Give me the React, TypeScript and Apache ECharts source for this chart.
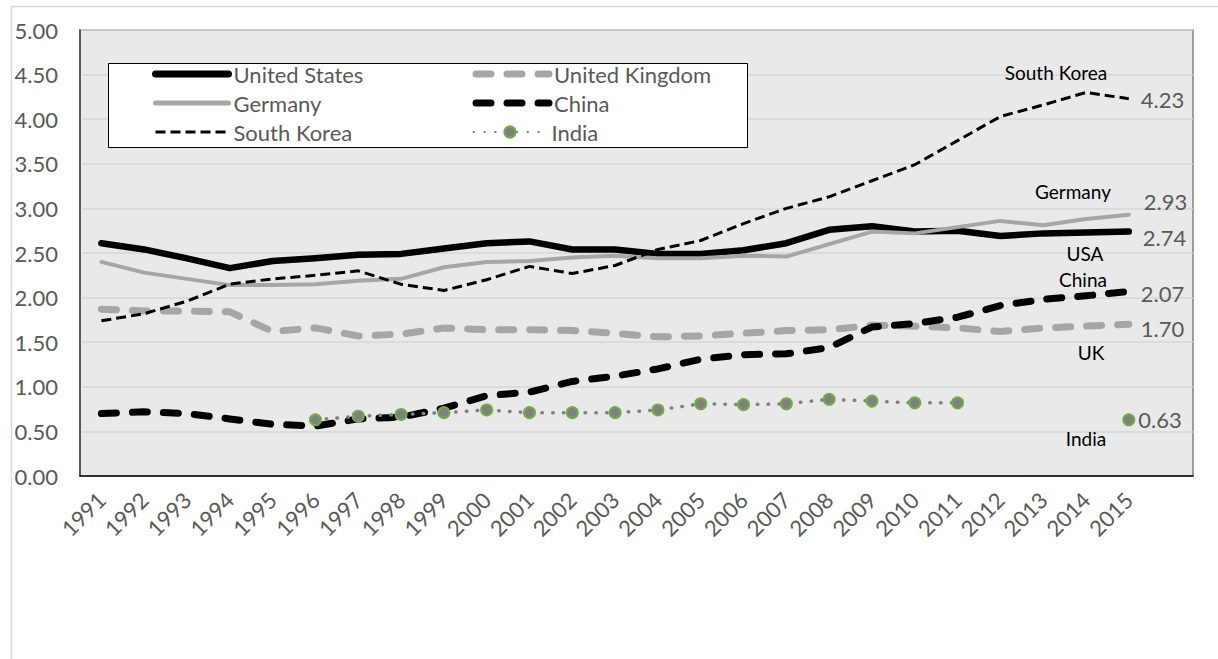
import React, { useEffect, useRef } from 'react';
import * as echarts from 'echarts';

const FONT = 'Lato, "Open Sans", sans-serif';

const years = ['1991', '1992', '1993', '1994', '1995', '1996', '1997', '1998', '1999', '2000', '2001', '2002', '2003', '2004', '2005', '2006', '2007', '2008', '2009', '2010', '2011', '2012', '2013', '2014', '2015'];
const categories = [...years, ''];

const unitedStates = [2.61, 2.54, 2.44, 2.33, 2.41, 2.44, 2.48, 2.49, 2.55, 2.61, 2.63, 2.54, 2.54, 2.49, 2.49, 2.53, 2.61, 2.76, 2.80, 2.74, 2.75, 2.69, 2.72, 2.73, 2.74];
const unitedKingdom = [1.87, 1.85, 1.85, 1.84, 1.62, 1.66, 1.57, 1.59, 1.66, 1.64, 1.64, 1.63, 1.60, 1.56, 1.57, 1.60, 1.63, 1.64, 1.69, 1.68, 1.66, 1.62, 1.66, 1.68, 1.70];
const germany = [2.40, 2.28, 2.21, 2.14, 2.14, 2.15, 2.19, 2.21, 2.34, 2.40, 2.41, 2.45, 2.47, 2.44, 2.44, 2.47, 2.46, 2.60, 2.74, 2.72, 2.79, 2.86, 2.81, 2.88, 2.93];
const china = [0.70, 0.72, 0.70, 0.64, 0.58, 0.56, 0.64, 0.66, 0.76, 0.90, 0.94, 1.06, 1.12, 1.20, 1.31, 1.36, 1.37, 1.44, 1.67, 1.71, 1.78, 1.91, 1.98, 2.02, 2.07];
const southKorea = [1.74, 1.82, 1.96, 2.15, 2.21, 2.25, 2.30, 2.15, 2.08, 2.20, 2.35, 2.27, 2.36, 2.54, 2.64, 2.83, 3.00, 3.13, 3.31, 3.49, 3.76, 4.03, 4.16, 4.30, 4.23];
const india = [null, null, null, null, null, 0.63, 0.67, 0.69, 0.71, 0.74, 0.71, 0.71, 0.71, 0.74, 0.81, 0.80, 0.81, 0.86, 0.84, 0.82, 0.82, null, null, null, 0.63];

const yTicks = { min: 0, max: 5, interval: 0.5 };

const annotations = [
  { text: 'South Korea', x: 1056, y: 72 },
  { text: 'Germany', x: 1073, y: 191 },
  { text: 'USA', x: 1085, y: 253 },
  { text: 'China', x: 1083, y: 279 },
  { text: 'UK', x: 1091, y: 352 },
  { text: 'India', x: 1086, y: 438 },
];

const valueLabelStyle = { fontSize: 22, color: '#595959', fontFamily: FONT };

function endLabel(offsetY: number, distance: number) {
  return {
    show: true,
    distance,
    offset: [0, offsetY],
    formatter: (p: any) => Number(Array.isArray(p.value) ? p.value[1] : p.value).toFixed(2),
    ...valueLabelStyle,
  };
}

function withLastLabel(arr: (number | null)[], offsetY: number, distance: number) {
  return arr.map((v, i) =>
    i === arr.length - 1
      ? {
          value: v,
          label: {
            show: true,
            position: 'right',
            distance,
            offset: [0, offsetY],
            formatter: (p: any) => Number(p.value).toFixed(2),
            ...valueLabelStyle,
          },
        }
      : v
  );
}

const hiddenDot = { opacity: 0 };

export default function App() {
  const ref = useRef<HTMLDivElement>(null);
  useEffect(() => {
    const chart = echarts.init(ref.current!, undefined, { renderer: 'svg' });
    const option: any = {
      animation: false,
      textStyle: { fontFamily: FONT },
      grid: {
        left: 80,
        top: 30,
        right: 25,
        bottom: 183,
        show: true,
        backgroundColor: '#e9e9e9',
        borderColor: '#808080',
        borderWidth: 1.5,
      },
      legend: {
        left: 152,
        top: 63,
        width: 720,
        padding: 0,
        itemGap: 7,
        itemWidth: 73,
        itemHeight: 14,
        z: 10,
        data: [
          { name: 'United States', itemStyle: hiddenDot, lineStyle: { width: 7 } },
          { name: 'United Kingdom', itemStyle: hiddenDot, lineStyle: { width: 7 } },
          { name: 'Germany', itemStyle: hiddenDot, lineStyle: { width: 5 } },
          { name: 'China', itemStyle: hiddenDot, lineStyle: { width: 7 } },
          { name: 'South Korea', itemStyle: hiddenDot, lineStyle: { width: 3 } },
          { name: 'India' },
        ],
        textStyle: { fontSize: 22, color: '#595959', width: 232, lineHeight: 17, fontFamily: FONT },
      },
      xAxis: {
        type: 'category',
        data: categories,
        boundaryGap: true,
        axisLine: { lineStyle: { color: '#000', width: 1.5 } },
        axisTick: { show: false },
        axisLabel: { rotate: 45, fontSize: 22, color: '#595959', margin: 20, interval: 0, fontFamily: FONT },
        splitLine: { show: false },
      },
      yAxis: {
        type: 'value',
        min: yTicks.min,
        max: yTicks.max,
        interval: yTicks.interval,
        axisLine: { show: true, lineStyle: { color: '#404040', width: 1.5 } },
        axisTick: { show: false },
        axisLabel: { fontSize: 22, color: '#595959', margin: 22, formatter: (v: number) => v.toFixed(2), fontFamily: FONT },
        splitLine: { lineStyle: { color: '#d6d6d6', width: 1.5 } },
      },
      graphic: [
        {
          type: 'rect',
          silent: true,
          z: -1,
          shape: { x: 11.5, y: 6.5, width: 1300, height: 700 },
          style: { fill: 'none', stroke: '#d9d9d9', lineWidth: 1.5 },
        },
        {
          type: 'rect',
          z: 5,
          shape: { x: 108.5, y: 63.5, width: 639, height: 84 },
          style: { fill: '#fff', stroke: '#000', lineWidth: 1 },
        },
        ...annotations.map((a) => ({
          type: 'text',
          z: 6,
          x: a.x,
          y: a.y,
          style: {
            text: a.text,
            fill: '#000',
            font: `19px ${FONT}`,
            fontSize: 19,
            fontFamily: FONT,
            textAlign: 'center',
            textVerticalAlign: 'middle',
            align: 'center',
            verticalAlign: 'middle',
          },
        })),
      ],
      series: [
        {
          name: 'United States',
          type: 'line',
          data: unitedStates,
          symbol: 'none',
          lineStyle: { color: '#000', width: 6.5, cap: 'round', join: 'round' },
          itemStyle: { color: '#000' },
          endLabel: endLabel(6, 14),
        },
        {
          name: 'United Kingdom',
          type: 'line',
          data: unitedKingdom,
          symbol: 'none',
          lineStyle: { color: '#a6a6a6', width: 7, type: [15, 16], cap: 'round', join: 'round' },
          itemStyle: { color: '#a6a6a6' },
          endLabel: endLabel(4, 12),
        },
        {
          name: 'Germany',
          type: 'line',
          data: germany,
          symbol: 'none',
          lineStyle: { color: '#a6a6a6', width: 4, cap: 'round', join: 'round' },
          itemStyle: { color: '#a6a6a6' },
          endLabel: endLabel(-13, 15),
        },
        {
          name: 'China',
          type: 'line',
          data: china,
          symbol: 'none',
          lineStyle: { color: '#000', width: 7, type: [15, 16], cap: 'round', join: 'round' },
          itemStyle: { color: '#000' },
          endLabel: endLabel(2, 12),
        },
        {
          name: 'South Korea',
          type: 'line',
          data: southKorea,
          symbol: 'none',
          lineStyle: { color: '#000', width: 3, type: [10, 5] },
          itemStyle: { color: '#000' },
          endLabel: endLabel(1, 12),
        },
        {
          name: 'India',
          type: 'line',
          data: withLastLabel(india, 0, 3),
          symbol: 'circle',
          symbolSize: 11,
          showSymbol: true,
          showAllSymbol: true,
          connectNulls: false,
          lineStyle: { color: '#808080', width: 3.5, type: [0.5, 10.3], cap: 'round' },
          itemStyle: { color: '#808080', borderColor: '#70ad47', borderWidth: 2 },
        },
      ],
    };
    chart.setOption(option);
    return () => chart.dispose();
  }, []);
  return <div ref={ref} style={{ position: 'absolute', left: 0, top: 0, width: 1218, height: 659 }} />;
}
